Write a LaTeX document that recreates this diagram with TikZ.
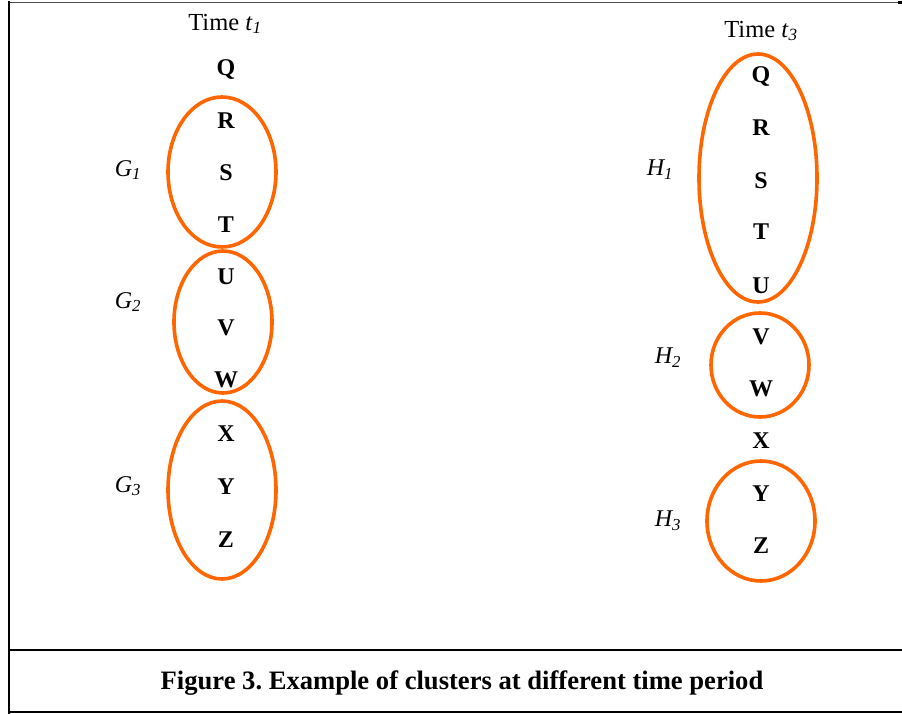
\documentclass[tikz,border=0pt]{standalone}
\usepackage{fontspec}
\setmainfont{Liberation Serif}
\definecolor{clorange}{RGB}{255,102,0}
\frenchspacing
\begin{document}
\begin{tikzpicture}[x=1pt,y=-1pt,
  item/.style={font=\fontsize{24}{24}\selectfont\bfseries, inner sep=0pt},
  lbl/.style={font=\fontsize{24}{24}\selectfont\itshape, inner sep=0pt},
  ttl/.style={font=\fontsize{24.5}{24}\selectfont, inner sep=0pt},
  clus/.style={draw=clorange, line width=3.6pt}]
\useasboundingbox (0,0) rectangle (902,714);
% frame
\draw[line width=1.2pt, black!70] (8,2.5) -- (902,2.5);
\fill (898,1) rectangle (902,4.5);
\draw[line width=2.6pt] (9,1) -- (9,714);
\draw[line width=2.8pt] (9,650) -- (902,650);
\draw[line width=1.8pt] (9,712) -- (902,712);
% left column
\node[ttl] (t1) at (225,24) {Time \textit{t}\textsubscript{\textit{1}}};
\node[item] (q1) at (226,70) {Q};
\node[item] (r1) at (226,121) {R};
\node[item] (s1) at (226,173) {S};
\node[item] (tt1) at (226,225) {T};
\node[item] (u1) at (226,277) {U};
\node[item] (v1) at (226,328) {V};
\node[item] (w1) at (226,380) {W};
\node[item] (x1) at (226,434) {X};
\node[item] (y1) at (226,487) {Y};
\node[item] (z1) at (226,540) {Z};
\draw[clus] (222,172) ellipse [x radius=54, y radius=75];
\draw[clus] (223,322) ellipse [x radius=49, y radius=71];
\draw[clus] (222,490) ellipse [x radius=54, y radius=89];
\node[lbl] (g1) at (128,170) {G\textsubscript{1}};
\node[lbl] (g2) at (128,302) {G\textsubscript{2}};
\node[lbl] (g3) at (128,486) {G\textsubscript{3}};
% right column
\node[ttl] (t3) at (761,31) {Time \textit{t}\textsubscript{\textit{3}}};
\node[item] (q3) at (761,77) {Q};
\node[item] (r3) at (761,128) {R};
\node[item] (s3) at (761,181) {S};
\node[item] (tt3) at (761,232) {T};
\node[item] (u3) at (761,286) {U};
\node[item] (v3) at (761,337) {V};
\node[item] (w3) at (761,389) {W};
\node[item] (x3) at (761,441) {X};
\node[item] (y3) at (761,494) {Y};
\node[item] (z3) at (761,546) {Z};
\draw[clus] (758,178) ellipse [x radius=59, y radius=124];
\draw[clus] (760,365) ellipse [x radius=49, y radius=52];
\draw[clus] (761,521) ellipse [x radius=54, y radius=60];
\node[lbl] (h1) at (660,170) {H\textsubscript{1}};
\node[lbl] (h2) at (668,358) {H\textsubscript{2}};
\node[lbl] (h3) at (668,521) {H\textsubscript{3}};
% caption
\node[font=\fontsize{26.6}{27}\selectfont\bfseries, inner sep=0pt] (cap) at (462,683) {Figure 3. Example of clusters at different time period};
\end{tikzpicture}
\end{document}
